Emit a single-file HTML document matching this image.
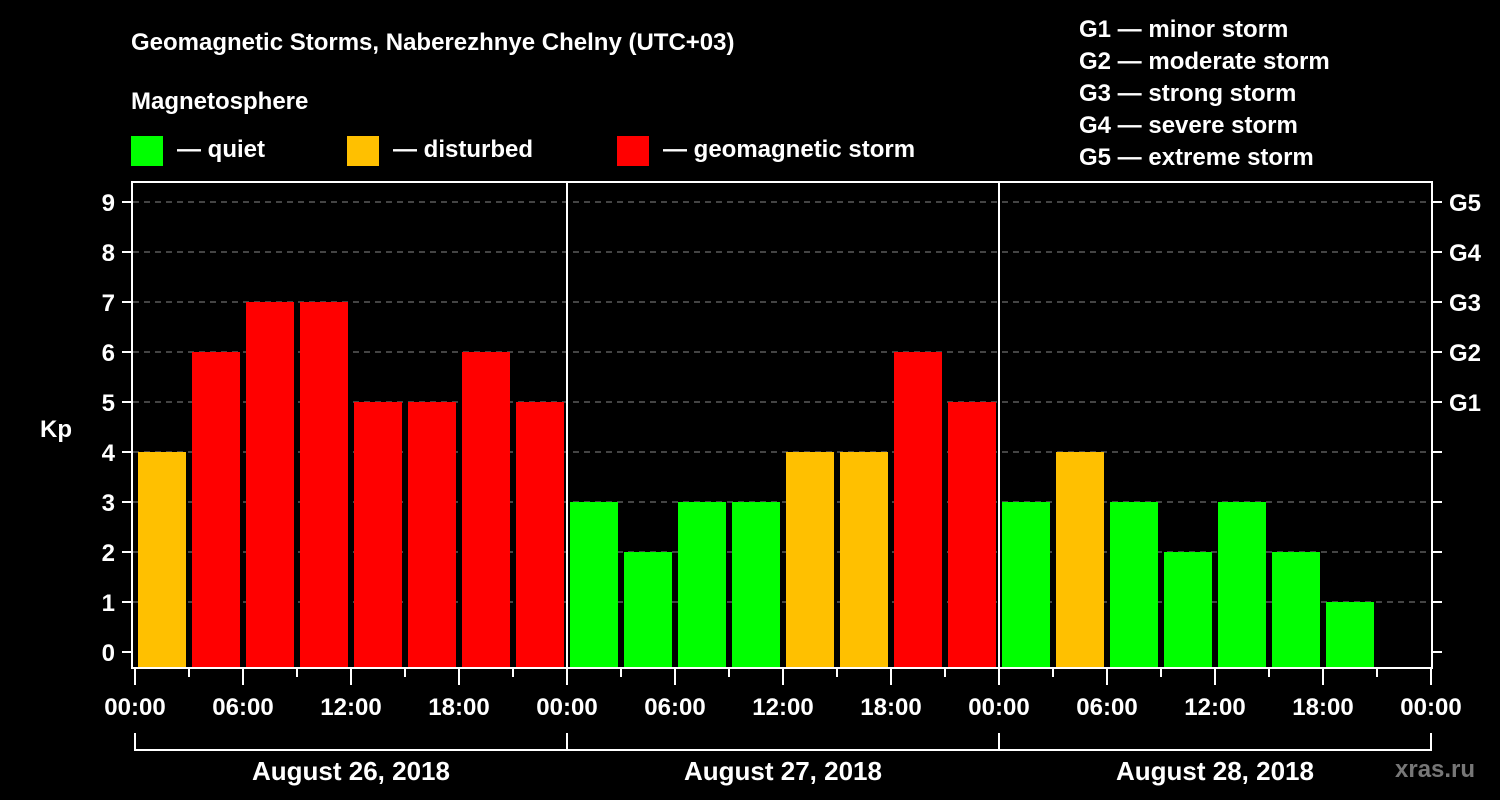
<!DOCTYPE html>
<html><head><meta charset="utf-8"><style>
body{margin:0;background:#000;width:1500px;height:800px;overflow:hidden}
svg{display:block;font-family:"Liberation Sans",sans-serif;font-weight:bold}
</style></head><body>
<svg id="c" width="1500" height="800">
<rect width="1500" height="800" fill="#000"/>
<text x="131" y="50" font-size="24" fill="#fff">Geomagnetic Storms, Naberezhnye Chelny (UTC+03)</text>
<text x="131" y="109" font-size="24" fill="#fff">Magnetosphere</text>
<g><rect x="131" y="136" width="32" height="30" fill="#00ff00"/><text x="177" y="157" font-size="24" fill="#fff">— quiet</text></g>
<g><rect x="347" y="136" width="32" height="30" fill="#ffc000"/><text x="393" y="157" font-size="24" fill="#fff">— disturbed</text></g>
<g><rect x="617" y="136" width="32" height="30" fill="#ff0000"/><text x="663" y="157" font-size="24" fill="#fff">— geomagnetic storm</text></g>
<g font-size="24" fill="#fff">
<text x="1079" y="37">G1 — minor storm</text>
<text x="1079" y="69">G2 — moderate storm</text>
<text x="1079" y="101">G3 — strong storm</text>
<text x="1079" y="133">G4 — severe storm</text>
<text x="1079" y="165">G5 — extreme storm</text>
</g>
<text x="40" y="437" font-size="24" fill="#fff">Kp</text>
<text x="1395" y="777" font-size="24" fill="#777">xras.ru</text>
<g id="plot"></g>
</svg>
<script>
const kpValues=[4,6,7,7,5,5,6,5, 3,2,3,3,4,4,6,5, 3,4,3,2,3,2,1];
const dayLabels=["August 26, 2018","August 27, 2018","August 28, 2018"];
const hourLabels=["00:00","06:00","12:00","18:00"];
const yTicks=[0,1,2,3,4,5,6,7,8,9];
const gLabels=["G1","G2","G3","G4","G5"];
const X0=135,PXH=18,Y0=652,PXK=50,TOP=182,BOT=668;
const xs=h=>X0+h*PXH, ys=k=>Y0-k*PXK;
const g=document.getElementById('plot');const NS="http://www.w3.org/2000/svg";
function mk(t,a,p){const e=document.createElementNS(NS,t);for(const k in a)e.setAttribute(k,a[k]);(p||g).appendChild(e);return e;}
function col(k){return k>=5?"#ff0000":k>=4?"#ffc000":"#00ff00";}
yTicks.forEach(k=>{const y=ys(k);
 if(k>0){const l=mk('line',{x1:133,x2:1431,y1:y,y2:y,stroke:'#888','stroke-width':1,'stroke-dasharray':'6,5'});
 }
 mk('line',{x1:122,x2:131,y1:y,y2:y,stroke:'#fff','stroke-width':2});
 mk('line',{x1:1433,x2:1442,y1:y,y2:y,stroke:'#fff','stroke-width':2});
 const t=mk('text',{x:115,y:y+9,'font-size':24,fill:'#fff','text-anchor':'end'});t.textContent=k;
 
});
gLabels.forEach((s,i)=>{const t=mk('text',{x:1449,y:ys(5+i)+9,'font-size':24,fill:'#fff'});t.textContent=s;
 });
kpValues.forEach((k,i)=>{const r=mk('rect',{x:xs(i*3)+3,y:ys(k),width:48,height:BOT-ys(k),fill:col(k)});
 });
mk('rect',{x:132,y:TOP,width:1300,height:BOT-TOP,fill:'none',stroke:'#fff','stroke-width':2});
[1,2].forEach(d=>mk('line',{x1:xs(d*24),x2:xs(d*24),y1:TOP,y2:BOT,stroke:'#fff','stroke-width':2}));
for(let h=0;h<=72;h+=3){const major=h%6==0;mk('line',{x1:xs(h),x2:xs(h),y1:BOT,y2:major?685:677,stroke:'#fff','stroke-width':2});
 if(major){const t=mk('text',{x:xs(h),y:715,'font-size':24,fill:'#fff','text-anchor':'middle'});t.textContent=hourLabels[(h/6)%4];
 }}
mk('line',{x1:xs(0),x2:xs(72),y1:750,y2:750,stroke:'#fff','stroke-width':2});
for(let d=0;d<=3;d++)mk('line',{x1:xs(d*24),x2:xs(d*24),y1:733,y2:751,stroke:'#fff','stroke-width':2});
dayLabels.forEach((s,d)=>{const t=mk('text',{x:xs(d*24+12),y:780,'font-size':26,fill:'#fff','text-anchor':'middle'});t.textContent=s;
 });
</script>
</body></html>
